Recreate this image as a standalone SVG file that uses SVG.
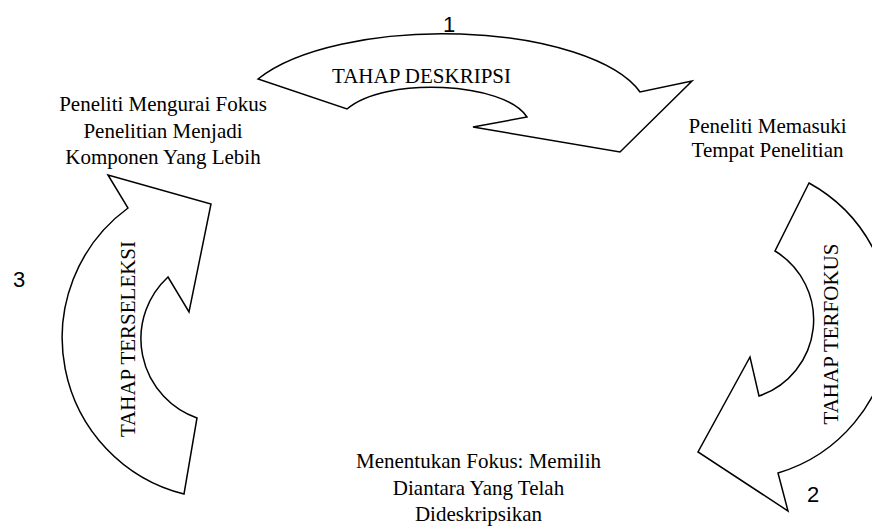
<svg xmlns="http://www.w3.org/2000/svg" width="872" height="528" viewBox="0 0 872 528">
<style>
.arrow{fill:#ffffff;stroke:#000000;stroke-width:1.5;stroke-linejoin:miter}
.lbl{font-family:"Liberation Serif","Times New Roman",serif;font-size:21px;fill:#000000;text-anchor:middle}
.num{font-family:"Liberation Sans",Arial,sans-serif;font-size:22px;fill:#000000;text-anchor:middle}
</style>
<rect width="872" height="528" fill="#ffffff"/>
<g id="connectors">
<g id="arrow-deskripsi">
<path class="arrow" d="M258,79 A205,80 0 0 1 640,92 L692,81 L620,152 L473,127 L527,117 C505,82 385,76 347,109 Z"/>
<text class="lbl" x="421.5" y="83">TAHAP DESKRIPSI</text>
</g>
<g id="arrow-terfokus">
<path class="arrow" d="M809,183 L775,251 A80.5,80.5 0 0 1 759,396 L750,357 L698,452 L788,511 L778,473 A158,158 0 0 0 809,183 Z"/>
<text class="lbl" transform="translate(838,334) rotate(-90)" x="0" y="0">TAHAP TERFOKUS</text>
</g>
<g id="arrow-terseleksi">
<path class="arrow" d="M108,175 L128,208 A161,161 0 0 0 184,494 L197,418 A84,84 0 0 1 168,277 L189,312 L211,204 Z"/>
<text class="lbl" transform="translate(135,339) rotate(-90)" x="0" y="0">TAHAP TERSELEKSI</text>
</g>
</g>
<g id="num-1"><text class="num" x="449" y="32">1</text></g>
<g id="num-2"><text class="num" x="813" y="502">2</text></g>
<g id="num-3"><text class="num" x="19" y="287">3</text></g>
<g id="node-mengurai">
<text class="lbl" x="163" y="111">Peneliti Mengurai Fokus</text>
<text class="lbl" x="163" y="137.5">Penelitian Menjadi</text>
<text class="lbl" x="163" y="164">Komponen Yang Lebih</text>
</g>
<g id="node-memasuki">
<text class="lbl" x="767.5" y="133">Peneliti Memasuki</text>
<text class="lbl" x="767.5" y="157">Tempat Penelitian</text>
</g>
<g id="node-menentukan">
<text class="lbl" x="478.5" y="468">Menentukan Fokus: Memilih</text>
<text class="lbl" x="478.5" y="494.5">Diantara Yang Telah</text>
<text class="lbl" x="478.5" y="521">Dideskripsikan</text>
</g>
</svg>
